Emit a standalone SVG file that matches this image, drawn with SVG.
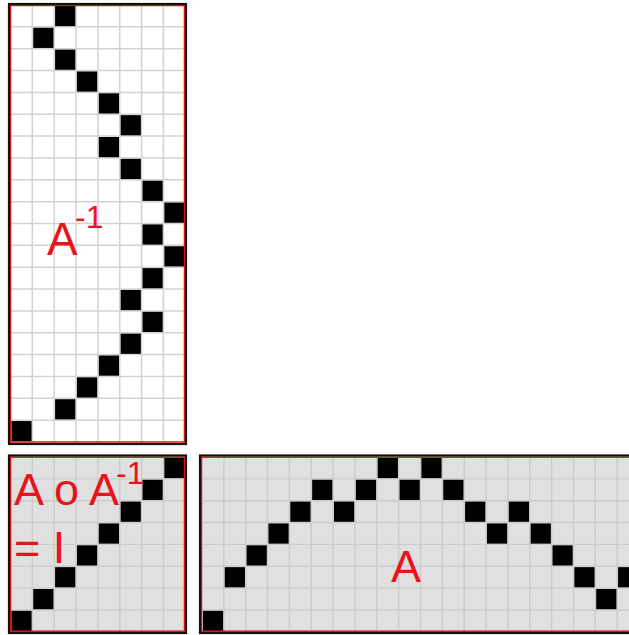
<svg xmlns="http://www.w3.org/2000/svg" width="629" height="635" viewBox="0 0 629 635">
<style>
.bgw{fill:#ffffff}
.bgg{fill:#e0e0e0}
.gw{stroke:#d2d2d2;stroke-width:1.5;fill:none}
.gg{stroke:#cbcbcb;stroke-width:1.4;fill:none}
.ob{fill:none;stroke:#111;stroke-width:2.2}
.rb{fill:none;stroke:#ee1111;stroke-width:1.5}
.b{fill:#000}
.t{font-family:"Liberation Sans",Arial,sans-serif;fill:#e8141c}
</style>
<rect width="629" height="635" fill="#fff"/>

<g id="inverse">
<rect class="bgw" x="10" y="5" width="175" height="437"/>
<path class="gw" d="M32.35 5V442M54.2 5V442M76.05 5V442M97.9 5V442M119.75 5V442M141.6 5V442M163.45 5V442
M10 26.85H185M10 48.7H185M10 70.55H185M10 92.4H185M10 114.25H185M10 136.1H185M10 157.95H185M10 179.8H185M10 201.65H185M10 223.5H185M10 245.35H185M10 267.2H185M10 289.05H185M10 310.9H185M10 332.75H185M10 354.6H185M10 376.45H185M10 398.3H185M10 420.15H185"/>
<rect class="b" x="55.1" y="5.9" width="20.2" height="20.2"/>
<rect class="b" x="33.25" y="27.75" width="20.2" height="20.2"/>
<rect class="b" x="55.1" y="49.6" width="20.2" height="20.2"/>
<rect class="b" x="76.95" y="71.45" width="20.2" height="20.2"/>
<rect class="b" x="98.8" y="93.3" width="20.2" height="20.2"/>
<rect class="b" x="120.65" y="115.15" width="20.2" height="20.2"/>
<rect class="b" x="98.8" y="137" width="20.2" height="20.2"/>
<rect class="b" x="120.65" y="158.85" width="20.2" height="20.2"/>
<rect class="b" x="142.5" y="180.7" width="20.2" height="20.2"/>
<rect class="b" x="164.35" y="202.55" width="20.2" height="20.2"/>
<rect class="b" x="142.5" y="224.4" width="20.2" height="20.2"/>
<rect class="b" x="164.35" y="246.25" width="20.2" height="20.2"/>
<rect class="b" x="142.5" y="268.1" width="20.2" height="20.2"/>
<rect class="b" x="120.65" y="289.95" width="20.2" height="20.2"/>
<rect class="b" x="142.5" y="311.8" width="20.2" height="20.2"/>
<rect class="b" x="120.65" y="333.65" width="20.2" height="20.2"/>
<rect class="b" x="98.8" y="355.5" width="20.2" height="20.2"/>
<rect class="b" x="76.95" y="377.35" width="20.2" height="20.2"/>
<rect class="b" x="55.1" y="399.2" width="20.2" height="20.2"/>
<rect class="b" x="11.4" y="421.05" width="20.2" height="20.2"/>
<rect class="rb" x="10.5" y="5.5" width="174" height="436.5"/>
<rect class="ob" x="9" y="4" width="177" height="440"/>
<text class="t" x="47" y="255" font-size="46">A</text>
<text class="t" x="75" y="228" font-size="32">-1</text>
</g>

<g id="identity">
<rect class="bgg" x="10" y="457" width="175" height="175"/>
<path class="gg" d="M32.35 457V632M54.2 457V632M76.05 457V632M97.9 457V632M119.75 457V632M141.6 457V632M163.45 457V632
M10 478.85H185M10 500.7H185M10 522.55H185M10 544.4H185M10 566.25H185M10 588.1H185M10 609.95H185"/>
<rect class="b" x="164.35" y="457.9" width="20.2" height="20.2"/>
<rect class="b" x="142.5" y="479.75" width="20.2" height="20.2"/>
<rect class="b" x="120.65" y="501.6" width="20.2" height="20.2"/>
<rect class="b" x="98.8" y="523.45" width="20.2" height="20.2"/>
<rect class="b" x="76.95" y="545.3" width="20.2" height="20.2"/>
<rect class="b" x="55.1" y="567.15" width="20.2" height="20.2"/>
<rect class="b" x="33.25" y="589" width="20.2" height="20.2"/>
<rect class="b" x="11.4" y="610.85" width="20.2" height="20.2"/>
<rect class="rb" x="10.5" y="457.2" width="174" height="174"/>
<rect class="ob" x="9" y="455.5" width="177" height="177.5"/>
<text class="t" x="14" y="505" font-size="45">A o A</text>
<text class="t" x="116" y="484" font-size="32">-1</text>
<text class="t" x="14" y="563" font-size="45">= I</text>
</g>

<g id="matrixA">
<rect class="bgg" x="201" y="457" width="440" height="175"/>
<path class="gg" d="M223.85 457V632M245.7 457V632M267.55 457V632M289.4 457V632M311.25 457V632M333.1 457V632M354.95 457V632M376.8 457V632M398.65 457V632M420.5 457V632M442.35 457V632M464.2 457V632M486.05 457V632M507.9 457V632M529.75 457V632M551.6 457V632M573.45 457V632M595.3 457V632M617.15 457V632
M201 478.85H640M201 500.7H640M201 522.55H640M201 544.4H640M201 566.25H640M201 588.1H640M201 609.95H640"/>
<rect class="b" x="202.9" y="610.85" width="20.2" height="20.2"/>
<rect class="b" x="224.75" y="567.15" width="20.2" height="20.2"/>
<rect class="b" x="246.6" y="545.3" width="20.2" height="20.2"/>
<rect class="b" x="268.45" y="523.45" width="20.2" height="20.2"/>
<rect class="b" x="290.3" y="501.6" width="20.2" height="20.2"/>
<rect class="b" x="312.15" y="479.75" width="20.2" height="20.2"/>
<rect class="b" x="334" y="501.6" width="20.2" height="20.2"/>
<rect class="b" x="355.85" y="479.75" width="20.2" height="20.2"/>
<rect class="b" x="377.7" y="457.9" width="20.2" height="20.2"/>
<rect class="b" x="399.55" y="479.75" width="20.2" height="20.2"/>
<rect class="b" x="421.4" y="457.9" width="20.2" height="20.2"/>
<rect class="b" x="443.25" y="479.75" width="20.2" height="20.2"/>
<rect class="b" x="465.1" y="501.6" width="20.2" height="20.2"/>
<rect class="b" x="486.95" y="523.45" width="20.2" height="20.2"/>
<rect class="b" x="508.8" y="501.6" width="20.2" height="20.2"/>
<rect class="b" x="530.65" y="523.45" width="20.2" height="20.2"/>
<rect class="b" x="552.5" y="545.3" width="20.2" height="20.2"/>
<rect class="b" x="574.35" y="567.15" width="20.2" height="20.2"/>
<rect class="b" x="596.2" y="589" width="20.2" height="20.2"/>
<rect class="b" x="618.05" y="567.15" width="20.2" height="20.2"/>
<rect class="rb" x="201.5" y="457.2" width="440" height="174"/>
<rect class="ob" x="200" y="455.5" width="445" height="177.5"/>
<text class="t" x="391" y="582" font-size="45">A</text>
</g>

<g id="connectors"></g>
</svg>
